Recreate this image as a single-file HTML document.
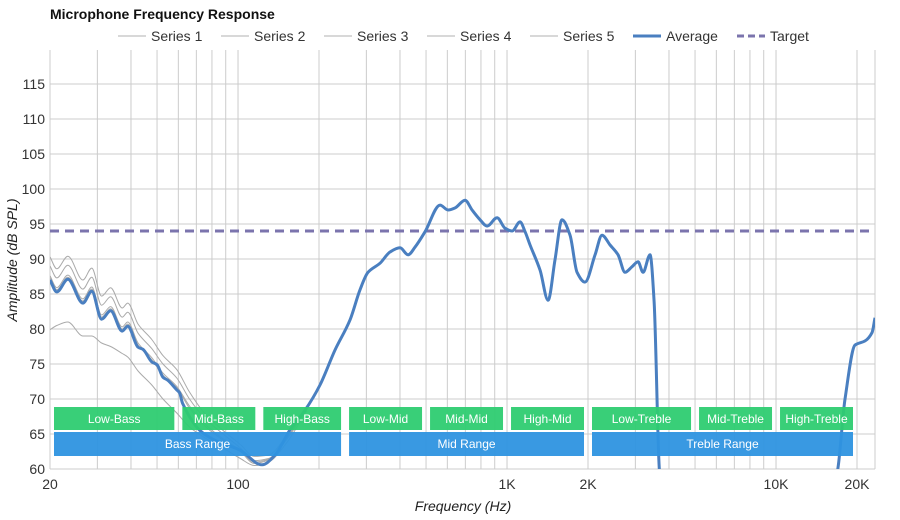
<!DOCTYPE html>
<html><head><meta charset="utf-8"><style>
body{margin:0;background:#fff;font-family:"Liberation Sans",sans-serif}
svg{display:block}
</style></head><body>
<svg id="chart" width="900" height="520" font-family="Liberation Sans, sans-serif">
<text x="50" y="19" font-size="14" font-weight="bold" fill="#111">Microphone Frequency Response</text>
<g id="grid"></g>
<g id="axes"></g>
<g id="series"></g>
<g id="bands"></g>
<g id="legend"></g>
<text x="463" y="511" font-size="14" font-style="italic" text-anchor="middle" fill="#222">Frequency (Hz)</text>
<text transform="translate(17,260) rotate(-90)" font-size="14" font-style="italic" text-anchor="middle" fill="#222">Amplitude (dB SPL)</text>
</svg>
<script>
const yTicks=[60,65,70,75,80,85,90,95,100,105,110,115];
const xTickLabels=[["20",20],["100",100],["1K",1000],["2K",2000],["10K",10000],["20K",20000]];
const gridFreqs=[20,30,40,50,60,70,80,90,100,200,300,400,500,600,700,800,900,1000,2000,3000,4000,5000,6000,7000,8000,9000,10000,20000];
const avgFreq=[20,21.2,23.3,26.5,28.6,31.1,33.6,37.1,38.9,42.5,44.3,47.8,50,52.6,54.7,59.2,60.6,62.2,72.2,82.1,101.7,122.8,137.3,156,177.5,201.7,229.4,260.8,284.1,304.3,337.2,367.3,400.2,428.6,455.1,495.8,563.8,603.9,641.2,698.3,741.4,794,843,918.4,983,1044,1118,1167,1218,1327,1421,1508,1601,1715,1821,1949,2125,2255,2416,2587,2746,2916,3069,3204,3401,3521,3706,16710,18050,19660,21430,22750,23330];
const avgDb=[87,85.3,87.1,83.7,85.4,81.4,82.6,79.7,80.4,77.4,77.1,75.3,74.9,73.1,72.7,71.3,70.9,69.4,65.5,64.1,62.7,60.6,62,65.6,68.4,72,77,81.3,85.6,88.1,89.4,91,91.6,90.6,91.7,93.9,97.7,97,97.3,98.4,97,95.6,94.7,95.9,94.4,94,95.3,93.9,92,88.4,84.1,89.9,95.6,93.4,88.1,86.7,90.6,93.4,92,90.6,88.1,88.9,89.6,88.1,90.6,84,57,57,70,77.7,78.3,79.5,81.6];
const grayFreq=[20,21.2,23.3,26.5,28.6,31.1,33.6,37.1,38.9,42.5,47.8,52.6,59.2,66,75,88,102,115,130,150,180];
const series1=[89,87.3,89.1,85.7,87.4,83.4,84.6,81.7,82.4,79.4,77.2,75,73,70,67.3,65,63,61.2,61.5,64.2,68.6];
const series2=[87.6,85.9,87.7,84.3,86,82,83.2,80.3,81,78,75.9,73.7,71.8,69,66.5,64.3,62.7,61,61.4,64,68.5];
const series3=[87.3,85.6,87.4,84,85.7,81.7,82.9,80,80.7,77.7,75.6,73.4,71.6,68.7,66.2,64.1,62.5,60.8,61.3,64,68.5];
const series4=[79.9,80.5,81,79,79,78,77.5,76.5,76,74,72,70,68,66,64.5,63,61.5,60.5,61,63.5,68.3];
const series5=[90.3,88.6,90.4,87,88.7,84.7,85.9,83,83.7,80.7,78.5,76.2,74.2,71,68,65.5,63.5,61.8,62,64.5,68.8];
const targetDb=94;
const bandNames=["Low-Bass","Mid-Bass","High-Bass","Low-Mid","Mid-Mid","High-Mid","Low-Treble","Mid-Treble","High-Treble"];
const bandEdges=[20,60,120,250,500,1000,2000,5000,10000,20000];
const rangeNames=["Bass Range","Mid Range","Treble Range"];
const rangeEdges=[20,250,2000,20000];

const NS="http://www.w3.org/2000/svg";
const X0=50,X1=875,YT=50,YB=469,DEC=269;
const xs=f=>X0+DEC*Math.log10(f/20);
const ys=d=>YB-(d-60)*7;
function mk(tag,attrs,parent){const e=document.createElementNS(NS,tag);for(const k in attrs)e.setAttribute(k,attrs[k]);parent.appendChild(e);return e;}
const grid=document.getElementById('grid'),axes=document.getElementById('axes'),ser=document.getElementById('series'),bands=document.getElementById('bands'),leg=document.getElementById('legend');
yTicks.forEach(t=>{
 const l=mk('line',{x1:X0,x2:X1,y1:ys(t),y2:ys(t),stroke:'#ccc','stroke-width':1},grid);
 
 
 const tx=mk('text',{x:45,y:ys(t)+5,'font-size':14,'text-anchor':'end',fill:'#333'},axes);
 tx.textContent=t;
 
 
});
gridFreqs.forEach(f=>{
 const l=mk('line',{x1:xs(f),x2:xs(f),y1:YT,y2:YB,stroke:'#ccc','stroke-width':1},grid);
 
 
});
mk('line',{x1:X1,x2:X1,y1:YT,y2:YB,stroke:'#ccc'},grid);
xTickLabels.forEach(([s,f])=>{
 const tx=mk('text',{x:xs(f),y:489,'font-size':14,'text-anchor':'middle',fill:'#333'},axes);
 tx.textContent=s;
 
 
});
function path(fr,db){
 const p=fr.map((f,i)=>[xs(f),Math.min(ys(db[i]),YB+6)]);
 const n=p.length,s=[],m=[];
 for(let i=0;i<n-1;i++)s.push((p[i+1][1]-p[i][1])/(p[i+1][0]-p[i][0]));
 m[0]=s[0];m[n-1]=s[n-2];
 for(let i=1;i<n-1;i++){m[i]=(s[i-1]*s[i]<=0)?0:2/(1/s[i-1]+1/s[i]);}
 let d='M'+p[0][0]+','+p[0][1];
 for(let i=0;i<n-1;i++){
  const h=(p[i+1][0]-p[i][0])/3;
  d+=`C${p[i][0]+h},${p[i][1]+m[i]*h} ${p[i+1][0]-h},${p[i+1][1]-m[i+1]*h} ${p[i+1][0]},${p[i+1][1]}`;
 }
 return d;
}
const clip=mk('clipPath',{id:'pc'},ser);mk('rect',{x:X0,y:YT,width:X1-X0,height:YB-YT},clip);
[series1,series2,series3,series4,series5].forEach((s,i)=>{
 const p=mk('path',{d:path(grayFreq,s),fill:'none',stroke:'#aaa','stroke-width':1,'clip-path':'url(#pc)'},ser);
 
 
});
const tl=mk('line',{x1:X0,x2:X1,y1:ys(targetDb),y2:ys(targetDb),stroke:'#7b74ad','stroke-width':3,'stroke-dasharray':'9,6'},ser);


const av=mk('path',{d:path(avgFreq,avgDb),fill:'none',stroke:'#4a7fc0','stroke-width':3,'clip-path':'url(#pc)'},ser);


bandNames.forEach((n,i)=>{
 const a=xs(bandEdges[i])+4,b=xs(bandEdges[i+1]);
 const r=mk('rect',{x:a,y:407,width:b-a-4,height:23,fill:'#2ecc71','fill-opacity':0.95},bands);
 
 
 const t=mk('text',{x:(a+b-4)/2,y:423,'font-size':12,'text-anchor':'middle',fill:'#fff'},bands);
 t.textContent=n;
 
 
});
rangeNames.forEach((n,i)=>{
 const a=xs(rangeEdges[i])+4,b=xs(rangeEdges[i+1]);
 const r=mk('rect',{x:a,y:432,width:b-a-4,height:24,fill:'#2e93e0','fill-opacity':0.95},bands);
 
 
 const t=mk('text',{x:(a+b-4)/2,y:448,'font-size':12,'text-anchor':'middle',fill:'#fff'},bands);
 t.textContent=n;
 
 
});
const legItems=[["Series 1",118,'#ccc',1.5,''],["Series 2",221,'#ccc',1.5,''],["Series 3",324,'#ccc',1.5,''],["Series 4",427,'#ccc',1.5,''],["Series 5",530,'#ccc',1.5,''],["Average",633,'#4a7fc0',3,''],["Target",737,'#7b74ad',3,'7,4']];
legItems.forEach(([n,x,c,w,da])=>{
 const g=mk('g',{},leg);
 
 
 mk('line',{x1:x,x2:x+28,y1:36,y2:36,stroke:c,'stroke-width':w,'stroke-dasharray':da},g);
 const t=mk('text',{x:x+33,y:41,'font-size':14,fill:'#333'},g);t.textContent=n;
});
</script>
</body></html>
